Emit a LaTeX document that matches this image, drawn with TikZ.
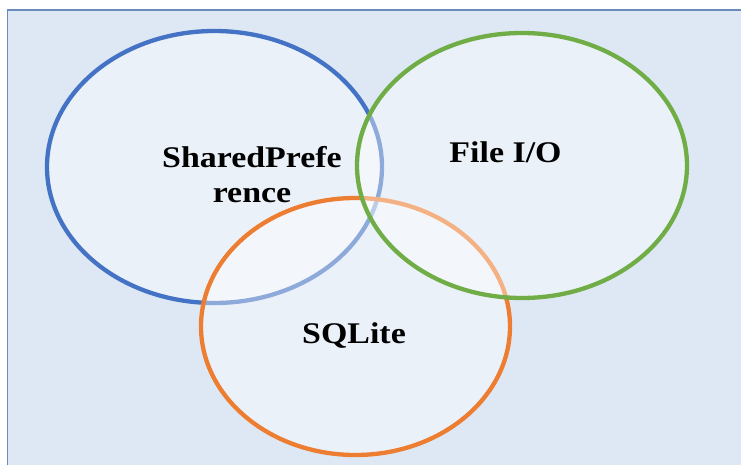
\documentclass[tikz,border=0pt]{standalone}
\usepackage{fontspec}
\usepackage{graphicx}
\setmainfont{Liberation Serif}
\definecolor{bgblue}{HTML}{DEE8F4}
\definecolor{framec}{HTML}{6A8CBA}
\definecolor{cblue}{HTML}{4472C4}
\definecolor{cgreen}{HTML}{70AD47}
\definecolor{corange}{HTML}{ED7D31}
\newcommand\widetxt[1]{\scalebox{1.13}[1]{#1}}
\tikzset{
  venn/.style={line width=4.3pt, fill=white, fill opacity=0.4, draw opacity=1},
  lbl/.style={font=\bfseries\fontsize{30}{35}\selectfont, text=black, inner sep=0pt, align=center}
}
\begin{document}
\begin{tikzpicture}[x=1pt,y=-1pt]
\useasboundingbox (0,0) rectangle (741,465);
\begin{scope}
\clip (0,0) rectangle (741,465);
\fill[white] (0,0) rectangle (741,465);
\filldraw[fill=bgblue, draw=framec, line width=1.5pt] (7.5,10) rectangle (750,475);
\path[venn, draw=cblue] (214.5,167) ellipse [x radius=167.5, y radius=136];
\path[venn, draw=corange] (355.5,326.5) ellipse [x radius=154.5, y radius=128.5];
\path[venn, draw=cgreen] (522,165.5) ellipse [x radius=165, y radius=132.5];
\end{scope}
\node[lbl, anchor=base] (sp) at (252,202) {\widetxt{SharedPrefe}\\\widetxt{rence}};
\node[lbl, anchor=base] (fio) at (505.5,163) {\widetxt{File I/O}};
\node[lbl, anchor=base] (sql) at (354,343) {\widetxt{SQLite}};
\end{tikzpicture}
\end{document}
